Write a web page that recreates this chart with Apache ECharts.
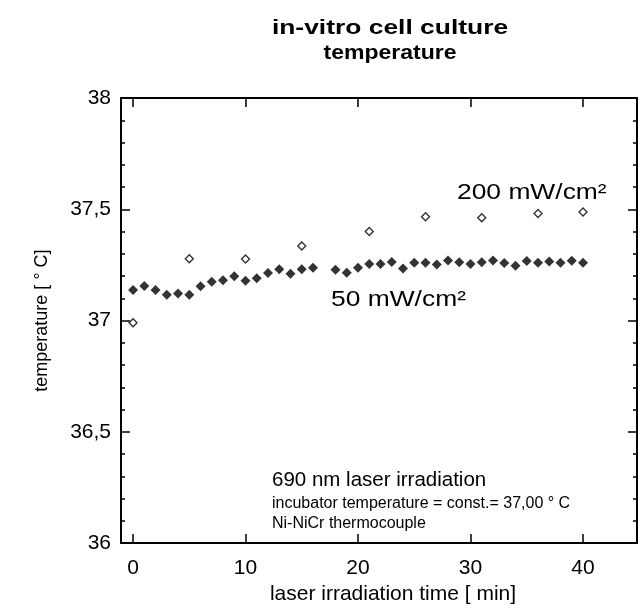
<!DOCTYPE html>
<html><head><meta charset="utf-8">
<script src="https://cdn.jsdelivr.net/npm/echarts@6/dist/echarts.min.js"></script>
<style>html,body{margin:0;padding:0;background:#fff}#c{width:638px;height:610px}</style>
</head><body><div id="c"></div>
<script>
// ---- data ----
const time50 = [0,1,2,3,4,5,6,7,8,9,10,11,12,13,14,15,16,18,19,20,21,22,23,24,25,26,27,28,29,30,31,32,33,34,35,36,37,38,39,40];
const temp50 = [37.137,37.155,37.137,37.116,37.122,37.116,37.154,37.174,37.181,37.199,37.179,37.190,37.214,37.231,37.210,37.231,37.237,37.228,37.215,37.237,37.254,37.254,37.263,37.234,37.260,37.260,37.252,37.270,37.262,37.254,37.262,37.270,37.259,37.246,37.268,37.260,37.265,37.260,37.269,37.260];
const time200 = [0,5,10,15,21,26,31,36,40];
const temp200 = [36.990,37.278,37.277,37.335,37.400,37.466,37.462,37.481,37.488];
const xTickValues = [0,10,20,30,40];
const yMin = 36, yMax = 38, yStep = 0.5;
const xMin = -1.07, xMax = 44.8;

const titleLines = ['in-vitro cell culture', 'temperature'];
const xName = 'laser irradiation time [ min]';
const yName = 'temperature [ ° C]';
const label200 = '200 mW/cm²';
const label50 = '50 mW/cm²';
const noteLines = ['690 nm laser irradiation', 'incubator temperature = const.= 37,00 ° C', 'Ni-NiCr thermocouple'];

const FONT = '"Liberation Sans", Arial, Helvetica, sans-serif';
const pairs = (xs, ys) => xs.map((x, i) => [x, ys[i]]);

const axisLine = { show: true, onZero: false, lineStyle: { color: '#000', width: 2 } };
const tickStyle = { color: '#000', width: 1.5 };

const chart = echarts.init(document.getElementById('c'), null, { renderer: 'canvas' });
chart.setOption({
  animation: false,
  backgroundColor: '#fff',
  grid: { left: 121, right: 1, top: 98, bottom: 50, containLabel: false },
  xAxis: [
    {
      type: 'value', min: xMin, max: xMax, position: 'bottom',
      axisLine: axisLine,
      axisTick: { show: true, inside: true, length: 9, lineStyle: tickStyle, customValues: xTickValues },
      axisLabel: { show: true, customValues: xTickValues, color: '#000', fontFamily: FONT, fontSize: 21, margin: 15 },
      splitLine: { show: false },
      name: xName, nameLocation: 'middle', nameGap: 39,
      nameTextStyle: { color: '#000', fontFamily: FONT, fontSize: 21, padding: [0, 0, 0, 28] }
    },
    {
      type: 'value', min: xMin, max: xMax, position: 'top',
      axisLine: axisLine,
      axisTick: { show: true, inside: true, length: 9, lineStyle: tickStyle, customValues: xTickValues },
      axisLabel: { show: false },
      splitLine: { show: false }
    }
  ],
  yAxis: [
    {
      type: 'value', min: yMin, max: yMax, interval: yStep, position: 'left',
      axisLine: axisLine,
      axisTick: { show: true, inside: true, length: 9, lineStyle: tickStyle },
      minorTick: { show: true, splitNumber: 5, length: 4, lineStyle: tickStyle },
      axisLabel: { color: '#000', fontFamily: FONT, fontSize: 21, margin: 10,
        formatter: v => String(v).replace('.', ',') },
      splitLine: { show: false },
      name: yName, nameLocation: 'middle', nameRotate: 90, nameGap: 70,
      nameTextStyle: { color: '#000', fontFamily: FONT, fontSize: 18 }
    },
    {
      type: 'value', min: yMin, max: yMax, interval: yStep, position: 'right',
      axisLine: axisLine,
      axisTick: { show: true, inside: true, length: 9, lineStyle: tickStyle },
      minorTick: { show: true, splitNumber: 5, length: 4, lineStyle: tickStyle },
      axisLabel: { show: false },
      splitLine: { show: false }
    }
  ],
  series: [
    {
      name: label50, type: 'scatter', xAxisIndex: 0, yAxisIndex: 0,
      symbol: 'diamond', symbolSize: 10,
      itemStyle: { color: '#000' },
      data: pairs(time50, temp50)
    },
    {
      name: label200, type: 'scatter', xAxisIndex: 0, yAxisIndex: 0,
      symbol: 'diamond', symbolSize: 8,
      itemStyle: { color: '#fff', borderColor: '#000', borderWidth: 1.4 },
      data: pairs(time200, temp200)
    }
  ],
  graphic: [
    { type: 'text', x: 390, y: 28, scaleX: 1.32,
      style: { text: titleLines[0], fill: '#000', font: 'bold 20px ' + FONT, align: 'center', verticalAlign: 'middle' } },
    { type: 'text', x: 390, y: 53, scaleX: 1.15,
      style: { text: titleLines[1], fill: '#000', font: 'bold 20px ' + FONT, align: 'center', verticalAlign: 'middle' } },
    { type: 'text', x: 457, y: 193, scaleX: 1.2,
      style: { text: label200, fill: '#000', font: '22px ' + FONT, align: 'left', verticalAlign: 'middle' } },
    { type: 'text', x: 331, y: 300, scaleX: 1.2,
      style: { text: label50, fill: '#000', font: '22px ' + FONT, align: 'left', verticalAlign: 'middle' } },
    { type: 'text', x: 272, y: 480,
      style: { text: noteLines[0], fill: '#000', font: '20.5px ' + FONT, align: 'left', verticalAlign: 'middle' } },
    { type: 'text', x: 272, y: 504,
      style: { text: noteLines[1], fill: '#000', font: '16px ' + FONT, align: 'left', verticalAlign: 'middle' } },
    { type: 'text', x: 272, y: 524,
      style: { text: noteLines[2], fill: '#000', font: '16px ' + FONT, align: 'left', verticalAlign: 'middle' } }
  ]
});
</script>
</body></html>
